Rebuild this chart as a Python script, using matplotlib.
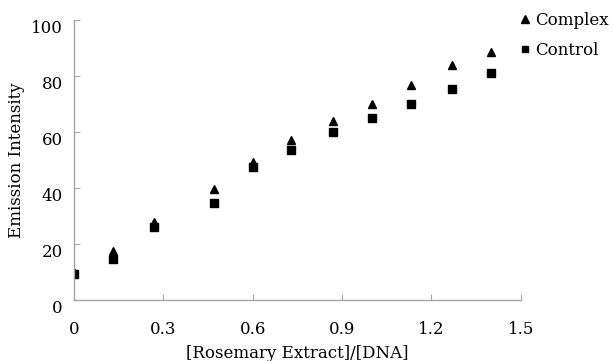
import matplotlib
matplotlib.use("Agg")
import matplotlib.pyplot as plt
import matplotlib.transforms as mtransforms

ratio = [0, 0.13, 0.27, 0.47, 0.6, 0.73, 0.87, 1.0, 1.13, 1.27, 1.4]
complex_vals = [10, 17.6, 27.7, 39.6, 49.2, 57, 64, 69.8, 76.6, 83.9, 88.7]
control_vals = [9.2, 14.5, 26, 34.5, 47.5, 53.5, 60, 65, 69.8, 75.3, 81]
xticks = [0, 0.3, 0.6, 0.9, 1.2, 1.5]
yticks = [0, 20, 40, 60, 80, 100]

plt.rcParams['font.family'] = ['DejaVu Serif']
fig = plt.figure(figsize=(6.13, 3.61), dpi=100)
ax = fig.add_axes([0.1207, 0.169, 0.729, 0.776])

ax.plot(ratio, complex_vals, linestyle='none', marker='^', color='black',
        markersize=6.2, label='Complex')
ax.plot(ratio, control_vals, linestyle='none', marker='s', color='black',
        markersize=5.8, label='Control')

ax.set_xlim(0, 1.5)
ax.set_ylim(0, 100)
ax.set_xticks(xticks)
ax.set_xticklabels([f"{t:g}" for t in xticks])
ax.set_yticks(yticks)
ax.set_yticklabels([str(t) for t in yticks])

for s in ['top', 'right']:
    ax.spines[s].set_visible(False)
for s in ['left', 'bottom']:
    ax.spines[s].set_color('#a6a6a6')
    ax.spines[s].set_linewidth(1.0)

ax.tick_params(axis='both', direction='in', color='#a6a6a6', length=4,
               labelsize=12, labelcolor='black')
ax.tick_params(axis='x', pad=15)
ax.tick_params(axis='y', pad=8)

offset = mtransforms.ScaledTranslation(0, -5 / 72, fig.dpi_scale_trans)
for lbl in ax.get_yticklabels():
    lbl.set_transform(lbl.get_transform() + offset)

ax.set_xlabel('[Rosemary Extract]/[DNA]', fontsize=12, labelpad=5)
ax.set_ylabel('Emission Intensity', fontsize=12, labelpad=4)

leg = ax.legend(loc='upper left', bbox_to_anchor=(0.838, 0.985),
                bbox_transform=fig.transFigure, frameon=False, fontsize=12,
                handlelength=0.6, handletextpad=0.3, labelspacing=0.75,
                markerscale=0.85, borderaxespad=0)

fig.savefig('out.png', dpi=100)
